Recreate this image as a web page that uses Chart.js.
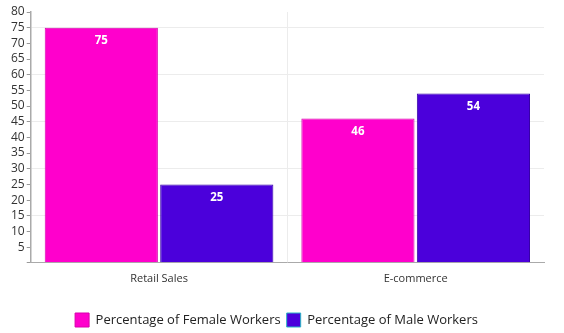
<!DOCTYPE html>
<html>
<head>
<meta charset="utf-8">
<script src="https://cdn.jsdelivr.net/npm/chart.js@4"></script>
<style>
  html, body { margin: 0; padding: 0; background: #fff; }
  #wrap { width: 564px; height: 333px; }
</style>
</head>
<body>
<div id="wrap"><canvas id="chart" width="564" height="333"></canvas></div>
<script>
(function(){
    'use strict';

    var categories = ['Retail Sales', 'E-commerce'];
    var femaleValues = [75, 46];
    var maleValues = [25, 54];
    var seriesNames = ['Percentage of Female Workers', 'Percentage of Male Workers'];

    var FONT = "'Open Sans', 'Noto Sans', sans-serif";

    // draw the value inside each bar, near its top
    var valueLabels = {
        id: 'valueLabels',
        afterDatasetsDraw: function(chart){
            var c = chart.ctx;
            c.save();
            c.fillStyle = '#fff';
            c.font = 'bold 11.5px ' + FONT;
            c.textAlign = 'center';
            c.textBaseline = 'middle';
            chart.data.datasets.forEach(function(ds, i){
                var meta = chart.getDatasetMeta(i);
                meta.data.forEach(function(bar, j){
                    c.fillText(String(ds.data[j]), bar.x, bar.y + 13);
                });
            });
            c.restore();
        }
    };

    // legend sits a bit lower than chart.js would put it
    var legendShift = {
        id: 'legendShift',
        beforeUpdate: function(chart){
            var lg = chart.legend;
            if (!lg || lg._patched) return;
            var fit = lg.fit;
            lg.fit = function(){
                fit.call(this);
                this.height -= 5;
            };
            lg._patched = true;
        }
    };

    var ctx = document.getElementById('chart');
    new Chart(ctx.getContext('2d'), {
        type: 'bar',
        data: {
            labels: categories,
            datasets: [{
                label: seriesNames[0],
                data: femaleValues,
                backgroundColor: '#ff00cc',
                borderColor: '#d800ad',
                borderWidth: 1,
                barPercentage: 0.98,
                categoryPercentage: 0.9
            }, {
                label: seriesNames[1],
                data: maleValues,
                backgroundColor: '#4b00db',
                borderColor: '#3600a6',
                borderWidth: 1,
                barPercentage: 0.98,
                categoryPercentage: 0.9
            }]
        },
        options: {
            responsive: false,
            animation: false,
            layout: { padding: { left: 9, right: 20, top: 12, bottom: 1 } },
            plugins: {
                legend: {
                    position: 'bottom',
                    labels: {
                        boxWidth: 14,
                        boxHeight: 14,
                        padding: 6,
                        color: '#222',
                        font: { family: FONT, size: 13 },
                        generateLabels: function(chart){
                            var items = Chart.defaults.plugins.legend.labels.generateLabels(chart);
                            items[0].strokeStyle = '#d800ad';
                            items[1].strokeStyle = '#2bb5c4';
                            return items;
                        }
                    }
                },
                tooltip: { enabled: false }
            },
            scales: {
                x: {
                    grid: {
                        offset: true,
                        color: function(c){ return c.index === 1 ? '#ececec' : 'transparent'; },
                        drawTicks: false
                    },
                    border: { color: '#aaa', width: 1 },
                    ticks: {
                        padding: 9,
                        color: '#333',
                        font: { family: FONT, size: 11 }
                    },
                    afterFit: function(s){ s.height += 13; }
                },
                y: {
                    min: 0,
                    max: 80,
                    grid: {
                        color: function(c){ return (c.tick && c.tick.value % 15 === 0 && c.tick.value > 0) ? '#ececec' : 'transparent'; },
                        tickColor: '#999',
                        tickLength: 4
                    },
                    border: { color: '#aaa', width: 1.5 },
                    ticks: {
                        stepSize: 5,
                        autoSkip: false,
                        padding: 2,
                        color: '#333',
                        font: { family: FONT, size: 12 },
                        callback: function(v){ return v === 0 ? '' : v; }
                    }
                }
            }
        },
        plugins: [valueLabels, legendShift]
    });
})();
</script>
</body>
</html>
